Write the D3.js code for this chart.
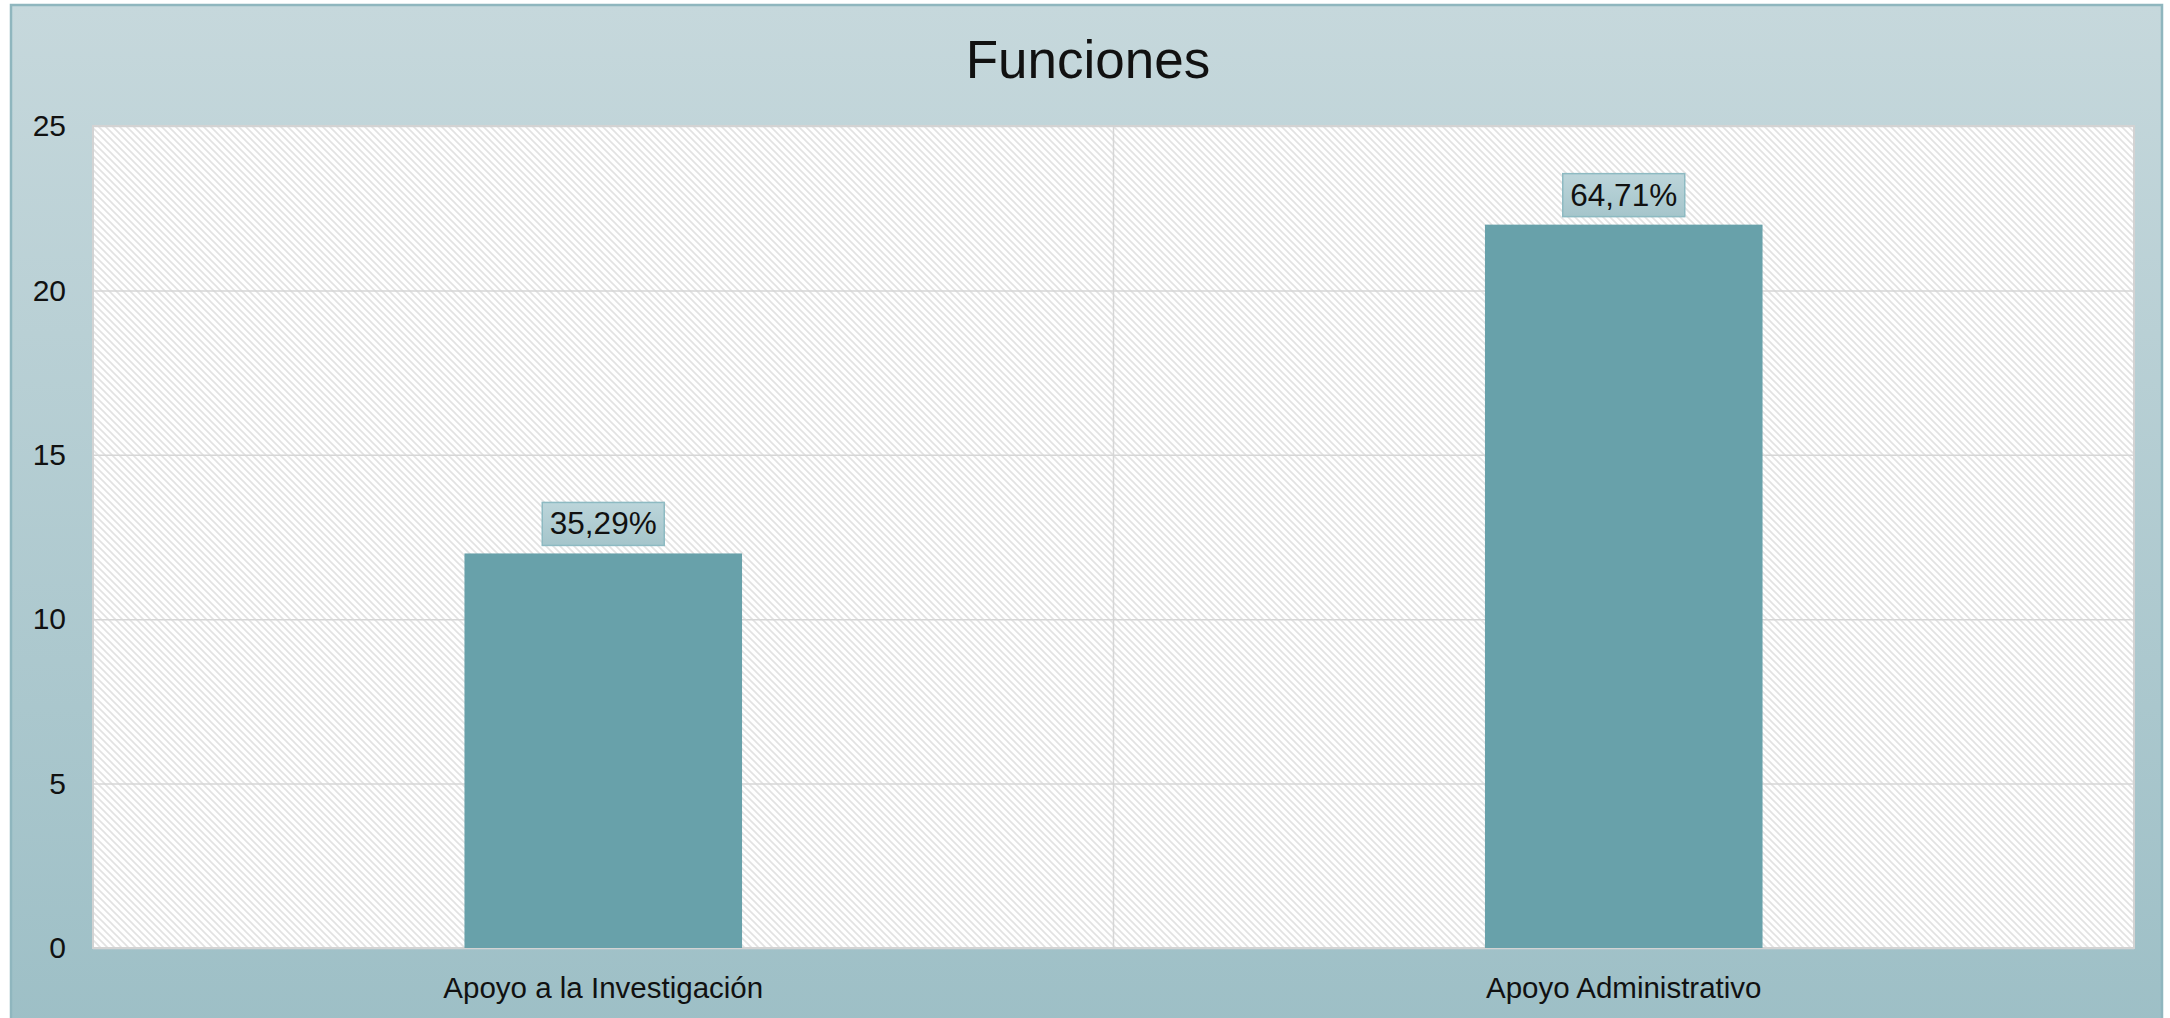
<!DOCTYPE html>
<html>
<head>
<meta charset="utf-8">
<script src="https://cdn.jsdelivr.net/npm/d3@7"></script>
<style>
  html, body { margin: 0; padding: 0; background: #ffffff; }
  svg { display: block; }
  text { font-family: "Liberation Sans", Arial, sans-serif; fill: #111; }
</style>
</head>
<body>
<svg id="chart" width="2170" height="1018"></svg>
<script>
// Chart data
const title = "Funciones";
const categories = ["Apoyo a la Investigación", "Apoyo Administrativo"];
const counts = [12, 22];
const percentLabels = ["35,29%", "64,71%"];
const yTicks = [0, 5, 10, 15, 20, 25];

const W = 2170, H = 1018;
const svg = d3.select("#chart");
const defs = svg.append("defs");

// Outer panel gradient
const bg = defs.append("linearGradient").attr("id", "panelGrad")
  .attr("x1", 0).attr("y1", 0).attr("x2", 0).attr("y2", 1);
bg.append("stop").attr("offset", "0%").attr("stop-color", "#c6d8dc");
bg.append("stop").attr("offset", "100%").attr("stop-color", "#9dbfc6");

// Label box gradient
const lg = defs.append("linearGradient").attr("id", "labelGrad")
  .attr("x1", 0).attr("y1", 0).attr("x2", 0).attr("y2", 1);
lg.append("stop").attr("offset", "0%").attr("stop-color", "#bcd5da");
lg.append("stop").attr("offset", "100%").attr("stop-color", "#a5c5cb");

// Diagonal hatch for the plot area
const pat = defs.append("pattern").attr("id", "hatch")
  .attr("patternUnits", "userSpaceOnUse")
  .attr("width", 7).attr("height", 7);
pat.append("rect").attr("width", 7).attr("height", 7).attr("fill", "#ffffff");
pat.append("path")
  .attr("d", "M-1,-1 L8,8 M-1,6 L1,8 M6,-1 L8,1")
  .attr("stroke", "#e2e2e2").attr("stroke-width", 1.6);

// Outer panel
svg.append("rect")
  .attr("x", 11).attr("y", 5).attr("width", 2151).attr("height", 1030)
  .attr("fill", "url(#panelGrad)")
  .attr("stroke", "#8fb6be").attr("stroke-width", 2.5);

// Plot area
const plot = { left: 93, top: 126, right: 2134, bottom: 948 };

const x = d3.scaleBand()
  .domain(categories)
  .range([plot.left, plot.right])
  .paddingInner(0).paddingOuter(0);

const y = d3.scaleLinear()
  .domain([0, 25])
  .range([plot.bottom, plot.top]);

svg.append("rect")
  .attr("x", plot.left).attr("y", plot.top)
  .attr("width", plot.right - plot.left).attr("height", plot.bottom - plot.top)
  .attr("fill", "url(#hatch)");

// Horizontal gridlines
svg.append("g")
  .attr("transform", `translate(${plot.left},0)`)
  .call(d3.axisLeft(y).tickValues(yTicks).tickSize(-(plot.right - plot.left)).tickFormat(""))
  .call(g => g.select(".domain").remove())
  .call(g => g.selectAll(".tick line").attr("stroke", "#d6d6d6").attr("stroke-width", 1.5));

// Vertical gridline between categories
svg.append("g")
  .selectAll("line")
  .data(categories.slice(1))
  .join("line")
  .attr("x1", d => x(d)).attr("x2", d => x(d))
  .attr("y1", plot.top).attr("y2", plot.bottom)
  .attr("stroke", "#d6d6d6").attr("stroke-width", 1.5);

// Plot frame
svg.append("rect")
  .attr("x", plot.left).attr("y", plot.top)
  .attr("width", plot.right - plot.left).attr("height", plot.bottom - plot.top)
  .attr("fill", "none").attr("stroke", "#d3d3d3").attr("stroke-width", 2);

// Y axis labels
svg.append("g")
  .attr("transform", `translate(66,0)`)
  .call(d3.axisLeft(y).tickValues(yTicks).tickSize(0).tickPadding(0))
  .call(g => g.select(".domain").remove())
  .call(g => g.selectAll("text")
    .attr("font-family", "Liberation Sans, Arial, sans-serif")
    .attr("font-size", 30).attr("fill", "#111"));

// Bars
const barWidth = x.bandwidth() * 0.272;
svg.append("g")
  .selectAll("rect")
  .data(categories)
  .join("rect")
  .attr("x", d => x(d) + x.bandwidth() / 2 - barWidth / 2)
  .attr("y", (d, i) => y(counts[i]))
  .attr("width", barWidth)
  .attr("height", (d, i) => y(0) - y(counts[i]))
  .attr("fill", "#68a1aa");

// Value labels in boxes
const lbl = svg.append("g")
  .selectAll("g")
  .data(categories)
  .join("g")
  .attr("transform", (d, i) => `translate(${x(d) + x.bandwidth() / 2},${y(counts[i]) - 8})`);
lbl.append("rect")
  .attr("x", -61).attr("y", -43).attr("width", 122).attr("height", 43)
  .attr("fill", "url(#labelGrad)")
  .attr("stroke", "#8dbac2").attr("stroke-width", 1.5);
lbl.append("text")
  .attr("text-anchor", "middle")
  .attr("y", -11)
  .attr("font-size", 31.5)
  .text((d, i) => percentLabels[i]);

// Category labels
svg.append("g")
  .attr("transform", `translate(0,${plot.bottom})`)
  .call(d3.axisBottom(x).tickSize(0).tickPadding(0))
  .call(g => g.select(".domain").remove())
  .call(g => g.selectAll("text")
    .attr("dy", null).attr("y", 50)
    .attr("font-family", "Liberation Sans, Arial, sans-serif")
    .attr("font-size", 29.5).attr("fill", "#111"));

// Title
svg.append("text")
  .attr("x", 1088).attr("y", 78)
  .attr("text-anchor", "middle")
  .attr("font-size", 53)
  .attr("fill", "#000")
  .text(title);
</script>
</body>
</html>
